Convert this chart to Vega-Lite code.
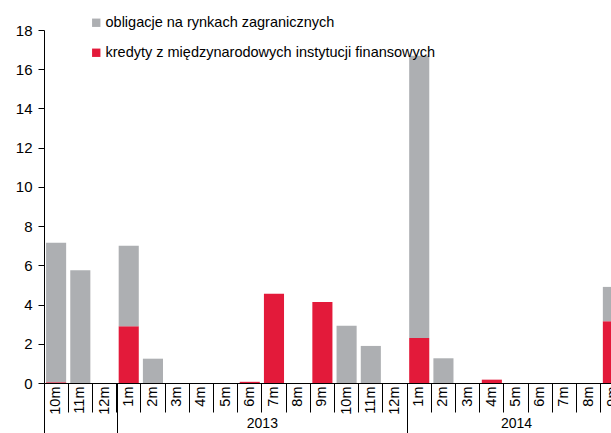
{
  "$schema": "https://vega.github.io/schema/vega-lite/v6.json",
  "width": 581,
  "height": 353,
  "autosize": {"type": "none"},
  "padding": {"left": 44, "top": 30, "right": 0, "bottom": 50},
  "background": "white",
  "config": {
    "view": {"stroke": null},
    "font": "Liberation Sans",
    "axis": {"domainColor": "#000000", "tickColor": "#000000", "labelColor": "#000000", "domainWidth": 1, "tickWidth": 1}
  },
  "data": {
    "values": [
      {"cat": "10m 2012", "series": "obligacje na rynkach zagranicznych", "value": 7.12},
      {"cat": "10m 2012", "series": "kredyty z międzynarodowych instytucji finansowych", "value": 0.03},
      {"cat": "11m 2012", "series": "obligacje na rynkach zagranicznych", "value": 5.75},
      {"cat": "1m 2013", "series": "kredyty z międzynarodowych instytucji finansowych", "value": 2.9},
      {"cat": "1m 2013", "series": "obligacje na rynkach zagranicznych", "value": 4.1},
      {"cat": "2m 2013", "series": "obligacje na rynkach zagranicznych", "value": 1.24},
      {"cat": "6m 2013", "series": "kredyty z międzynarodowych instytucji finansowych", "value": 0.06},
      {"cat": "7m 2013", "series": "kredyty z międzynarodowych instytucji finansowych", "value": 4.55},
      {"cat": "9m 2013", "series": "kredyty z międzynarodowych instytucji finansowych", "value": 4.13},
      {"cat": "10m 2013", "series": "obligacje na rynkach zagranicznych", "value": 2.92},
      {"cat": "11m 2013", "series": "obligacje na rynkach zagranicznych", "value": 1.89},
      {"cat": "1m 2014", "series": "kredyty z międzynarodowych instytucji finansowych", "value": 2.29},
      {"cat": "1m 2014", "series": "obligacje na rynkach zagranicznych", "value": 14.4},
      {"cat": "2m 2014", "series": "obligacje na rynkach zagranicznych", "value": 1.26},
      {"cat": "4m 2014", "series": "kredyty z międzynarodowych instytucji finansowych", "value": 0.17},
      {"cat": "9m 2014", "series": "kredyty z międzynarodowych instytucji finansowych", "value": 3.15},
      {"cat": "9m 2014", "series": "obligacje na rynkach zagranicznych", "value": 1.75}
    ]
  },
  "layer": [
    {
      "mark": {"type": "bar", "width": {"band": 0.83}},
      "encoding": {
        "x": {
          "field": "cat",
          "type": "nominal",
          "sort": null,
          "scale": {
            "domain": ["10m 2012", "11m 2012", "12m 2012", "1m 2013", "2m 2013", "3m 2013", "4m 2013", "5m 2013", "6m 2013", "7m 2013", "8m 2013", "9m 2013", "10m 2013", "11m 2013", "12m 2013", "1m 2014", "2m 2014", "3m 2014", "4m 2014", "5m 2014", "6m 2014", "7m 2014", "8m 2014", "9m 2014"],
            "paddingInner": 0,
            "paddingOuter": 0
          },
          "axis": {
            "title": null,
            "labelAngle": 270,
            "labelExpr": "split(datum.label, ' ')[0]",
            "bandPosition": 0,
            "tickSize": 29,
            "labelPadding": -26,
            "labelFontSize": 14.5,
            "labelOverlap": false
          }
        },
        "y": {
          "field": "value",
          "type": "quantitative",
          "stack": "zero",
          "scale": {"domain": [0, 18], "nice": false},
          "axis": {"title": null, "grid": false, "values": [0, 2, 4, 6, 8, 10, 12, 14, 16, 18], "tickSize": 6, "labelPadding": 6, "labelFontSize": 15}
        },
        "color": {
          "field": "series",
          "type": "nominal",
          "scale": {
            "domain": ["obligacje na rynkach zagranicznych", "kredyty z międzynarodowych instytucji finansowych"],
            "range": ["#ADAFB2", "#E31A3A"]
          },
          "legend": {
            "title": null,
            "orient": "none",
            "legendX": 45,
            "legendY": -14.5,
            "symbolType": "square",
            "symbolSize": 70,
            "symbolStrokeWidth": 0,
            "labelFontSize": 14.5,
            "labelOffset": 2,
            "rowPadding": 15,
            "labelLimit": 0,
            "padding": 0
          }
        },
        "order": {"field": "series", "sort": "ascending"}
      }
    },
    {
      "mark": {"type": "rule", "opacity": 0},
      "encoding": {
        "x": {
          "datum": 0,
          "type": "quantitative",
          "scale": {"domain": [0, 24], "nice": false, "zero": false},
          "axis": {
            "orient": "bottom",
            "title": null,
            "grid": false,
            "domain": false,
            "values": [0, 3, 9, 15, 19.5],
            "labelExpr": "datum.value == 9 ? '2013' : datum.value == 19.5 ? '2014' : ''",
            "tickSize": 50,
            "tickOpacity": {"condition": {"test": "datum.value == 9 || datum.value == 19.5", "value": 0}, "value": 1},
            "labelPadding": -17,
            "labelFontSize": 14,
            "labelOverlap": false,
            "labelFlush": false
          }
        }
      }
    }
  ],
  "resolve": {"scale": {"x": "independent"}}
}
